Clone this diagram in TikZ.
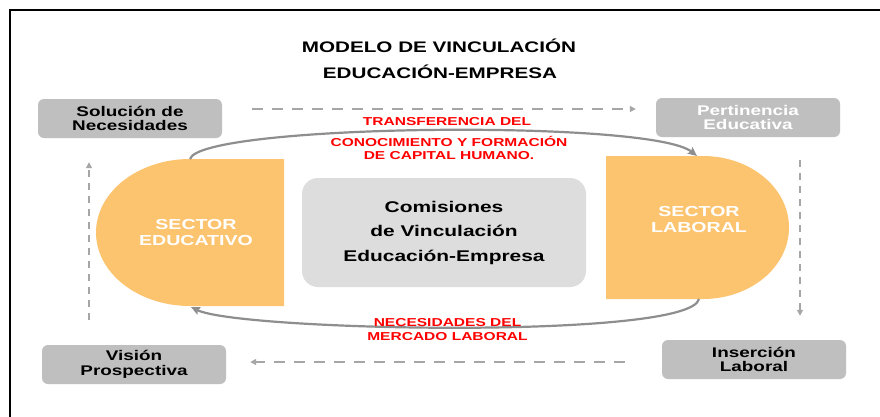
\documentclass[tikz,border=0pt]{standalone}
\usepackage{fontspec}
\setmainfont{Liberation Sans}[FakeStretch=1.35]
\usetikzlibrary{arrows.meta}
\definecolor{boxgray}{HTML}{BFBFBF}
\definecolor{lightbox}{HTML}{DDDDDD}
\definecolor{sectorfill}{HTML}{FDC470}
\definecolor{dashgray}{HTML}{A6A6A6}
\definecolor{curvegray}{HTML}{8E8E8E}
\tikzset{
  sidebox/.style={fill=boxgray, rounded corners=6pt, minimum width=184pt, minimum height=39pt,
    inner sep=0pt, align=center, font=\fontsize{14}{14.5}\selectfont\bfseries},
  dashh/.style={draw=dashgray, line width=2pt, dash pattern=on 11pt off 9pt,
    -{Triangle[length=6pt,width=6pt]}},
  dashv/.style={draw=dashgray, line width=2pt, dash pattern=on 7pt off 6pt,
    -{Triangle[length=6pt,width=6pt]}},
  flowcurve/.style={draw=curvegray, line width=2.2pt, -{Stealth[length=9pt,width=8pt,inset=1.5pt]}},
  redtxt/.style={text=red, align=center, inner sep=0pt, font=\fontsize{11.5}{13.5}\selectfont\bfseries},
  sectortxt/.style={text=white, align=center, inner sep=0pt, font=\fontsize{14.5}{16}\selectfont\bfseries},
  titletxt/.style={inner sep=0pt, font=\fontsize{15.3}{17}\selectfont\bfseries},
}
\begin{document}
\begin{tikzpicture}[x=1pt,y=-1pt]
\useasboundingbox (0,0) rectangle (880,416);
\fill[white] (0,0) rectangle (880,416);
% frame
\draw[line width=2pt] (890,10) -- (10,10) -- (10,426);
% title
\node[titletxt] (t1) at (439,46) {MODELO DE VINCULACIÓN};
\node[titletxt] (t2) at (440,72) {EDUCACIÓN-EMPRESA};
% side boxes
\node[sidebox] (sol) at (130,118.5) {Solución de\\Necesidades};
\node[sidebox, text=white] (per) at (748,117.5) {Pertinencia\\Educativa};
\node[sidebox] (vis) at (134,364.5) {Visión\\Prospectiva};
\node[sidebox] (ins) at (754,359.5) {Inserción\\Laboral};
% central box
\node[fill=lightbox, rounded corners=16pt, minimum width=284pt, minimum height=109pt,
  inner sep=0pt, align=center, font=\fontsize{15.5}{24.5}\selectfont\bfseries] (com) at (444,232.5)
  {Comisiones\\de Vinculación\\Educación-Empresa};
% sector educativo shape
\fill[sectorfill] (284,159) -- (284,306) -- (190,306)
  .. controls (138.1,306) and (96,273.1) .. (96,232.5)
  .. controls (96,191.9) and (138.1,159) .. (190,159) -- cycle;
\node[sectortxt] (edu) at (196,233) {SECTOR\\EDUCATIVO};
% sector laboral shape
\fill[sectorfill] (606,156) -- (703,156)
  .. controls (750.5,156) and (789,188) .. (789,227.5)
  .. controls (789,267) and (750.5,299) .. (703,299) -- (606,299) -- cycle;
\node[sectortxt] (lab) at (699,220) {SECTOR\\LABORAL};
% connection points
\coordinate (edTop) at (190,159);
\coordinate (labTop) at (697,156);
\coordinate (labBot) at (699,299);
\coordinate (edBot) at (191,307);
% curved flows
\draw[flowcurve] (edTop) .. controls (200,124) and (650,119) .. (labTop);
\draw[flowcurve] (labBot) .. controls (690,340) and (240,331) .. (edBot);
% red labels
\node[redtxt] (tr1) at (447,122) {TRANSFERENCIA DEL};
\node[redtxt] (tr2) at (449,148) {CONOCIMIENTO Y FORMACIÓN\\DE CAPITAL HUMANO.};
\node[redtxt] (nec) at (447.5,329.5) {NECESIDADES DEL\\MERCADO LABORAL};
% dashed arrows
\draw[dashh, shorten <=30pt, shorten >=20pt] ([yshift=9.5pt]sol.east) -- ([yshift=8.5pt]per.west);
\draw[dashh, shorten <=37pt, shorten >=24pt] ([yshift=-2.5pt]ins.west) -- ([yshift=2.5pt]vis.east);
\draw[dashv, shorten <=25pt, shorten >=24pt] ([xshift=-45pt]vis.north) -- ([xshift=-41pt]sol.south);
\draw[dashv, shorten <=23pt, shorten >=24pt] ([xshift=52pt]per.south) -- ([xshift=46pt]ins.north);
\end{tikzpicture}
\end{document}
